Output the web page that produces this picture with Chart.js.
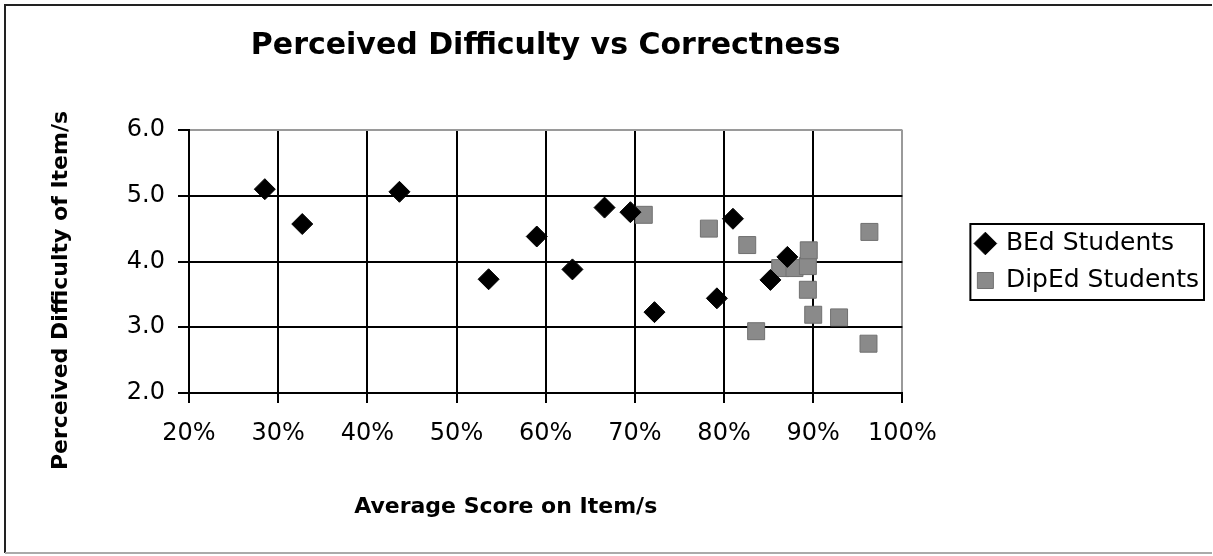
<!DOCTYPE html>
<html>
<head>
<meta charset="utf-8">
<title>Perceived Difficulty vs Correctness</title>
<script src="https://cdn.jsdelivr.net/npm/chart.js@4.4.1/dist/chart.umd.min.js"></script>
<style>
    html, body { margin: 0; padding: 0; background: #fff; }
</style>
</head>
<body>
<canvas id="difficultyChart" width="1213" height="556"></canvas>
<script>
// BEd students (average score, perceived difficulty)
const bedScores = [0.285, 0.327, 0.436, 0.536, 0.590, 0.630, 0.666, 0.695, 0.722, 0.792, 0.810, 0.852, 0.871];
const bedDifficulty = [5.10, 4.57, 5.06, 3.73, 4.38, 3.88, 4.82, 4.75, 3.23, 3.44, 4.65, 3.72, 4.07];

// DipEd students
const dipScores = [0.710, 0.783, 0.826, 0.836, 0.863, 0.879, 0.894, 0.895, 0.894, 0.900, 0.929, 0.963, 0.962];
const dipDifficulty = [4.71, 4.50, 4.25, 2.94, 3.90, 3.90, 3.93, 4.17, 3.57, 3.19, 3.15, 4.45, 2.75];

const xTickValues = [0.2, 0.3, 0.4, 0.5, 0.6, 0.7, 0.8, 0.9, 1.0];
const yTickValues = [2, 3, 4, 5, 6];

const chartTitle = 'Perceived Difficulty vs Correctness';
const xAxisTitle = 'Average Score on Item/s';
const yAxisTitle = 'Perceived Difficulty of Item/s';

const FONT = '"DejaVu Sans", Verdana, sans-serif';

function toPoints(xs, ys) {
    return xs.map((x, i) => ({ x: x, y: ys[i] }));
}

// frame, axis titles and the box around the legend
const chartDecor = {
    id: 'chartDecor',
    beforeDraw(chart) {
        const ctx = chart.ctx;
        ctx.save();
        ctx.lineWidth = 2;
        ctx.strokeStyle = '#222';
        ctx.beginPath();
        ctx.moveTo(5, 553);
        ctx.lineTo(5, 5);
        ctx.lineTo(1212, 5);
        ctx.stroke();
        ctx.strokeStyle = '#aaa';
        ctx.beginPath();
        ctx.moveTo(5, 553);
        ctx.lineTo(1212, 553);
        ctx.stroke();
        ctx.restore();
    },
    afterDraw(chart) {
        const ctx = chart.ctx;
        const area = chart.chartArea;
        ctx.save();
        ctx.fillStyle = '#000';
        ctx.textAlign = 'center';
        ctx.textBaseline = 'middle';
        ctx.font = 'bold 22px ' + FONT;
        ctx.fillText(xAxisTitle, (area.left + area.right) / 2 - 40, area.bottom + 114);

        ctx.translate(area.left - 128, (area.top + area.bottom) / 2 + 29);
        ctx.rotate(-Math.PI / 2);
        ctx.fillText(yAxisTitle, 0, 0);
        ctx.restore();

        const boxes = chart.legend.legendHitBoxes;
        if (boxes && boxes.length) {
            let l = Infinity, t = Infinity, r = -Infinity, b = -Infinity;
            boxes.forEach(hb => {
                l = Math.min(l, hb.left);
                t = Math.min(t, hb.top);
                r = Math.max(r, hb.left + hb.width);
                b = Math.max(b, hb.top + hb.height);
            });
            ctx.save();
            ctx.strokeStyle = '#000';
            ctx.lineWidth = 2;
            ctx.strokeRect(l - 7, t - 7, r - l + 12, b - t + 14);
            ctx.restore();
        }
    }
};

const ctx = document.getElementById('difficultyChart').getContext('2d');
new Chart(ctx, {
    type: 'scatter',
    data: {
        datasets: [{
            label: 'BEd Students',
            data: toPoints(bedScores, bedDifficulty),
            pointStyle: 'rectRot',
            pointRadius: 10.5,
            backgroundColor: '#000',
            borderColor: '#000',
            borderWidth: 1
        }, {
            label: 'DipEd Students',
            data: toPoints(dipScores, dipDifficulty),
            pointStyle: 'rect',
            pointRadius: 12,
            backgroundColor: '#8a8a8a',
            borderColor: '#707070',
            borderWidth: 1
        }]
    },
    options: {
        responsive: false,
        animation: false,
        devicePixelRatio: 1,
        events: [],
        layout: {
            padding: { top: 10, left: 4, right: 4, bottom: 42 }
        },
        scales: {
            x: {
                type: 'linear',
                min: 0.2,
                max: 1.0,
                afterBuildTicks: s => { s.ticks = xTickValues.map(v => ({ value: v })); },
                afterFit: s => { s.height = 121; },
                ticks: {
                    color: '#000',
                    font: { family: FONT, size: 24 },
                    padding: 16,
                    maxRotation: 0,
                    callback: v => Math.round(v * 100) + '%'
                },
                grid: {
                    color: c => (c.tick && c.tick.value === 1.0) ? '#9a9a9a' : '#000',
                    lineWidth: 2,
                    tickColor: '#000',
                    tickLength: 10,
                    tickWidth: 2
                },
                border: { color: '#000', width: 2 }
            },
            y: {
                type: 'linear',
                min: 2,
                max: 6,
                afterBuildTicks: s => { s.ticks = yTickValues.map(v => ({ value: v })); },
                afterFit: s => { s.width = 185; },
                ticks: {
                    color: '#000',
                    font: { family: FONT, size: 24 },
                    padding: 13,
                    callback: v => v.toFixed(1)
                },
                grid: {
                    color: c => (c.tick && c.tick.value === 6) ? '#9a9a9a' : '#000',
                    lineWidth: 2,
                    tickColor: '#000',
                    tickLength: 11,
                    tickWidth: 2
                },
                border: { color: '#000', width: 2 }
            },
            // empty axis, only keeps the gap between plot and legend
            gap: {
                type: 'linear',
                position: 'right',
                display: true,
                afterFit: s => { s.width = 63; },
                ticks: { display: false },
                grid: { display: false },
                border: { display: false }
            }
        },
        plugins: {
            title: {
                display: true,
                text: chartTitle,
                fullSize: false,
                color: '#000',
                font: { family: FONT, size: 30, weight: 'bold' },
                padding: { top: 18, bottom: 66 }
            },
            legend: {
                position: 'right',
                maxWidth: 320,
                labels: {
                    color: '#000',
                    font: { family: FONT, size: 25 },
                    usePointStyle: true,
                    boxWidth: 16,
                    boxHeight: 16,
                    padding: 12
                }
            },
            tooltip: { enabled: false }
        }
    },
    plugins: [chartDecor]
});
</script>
</body>
</html>
